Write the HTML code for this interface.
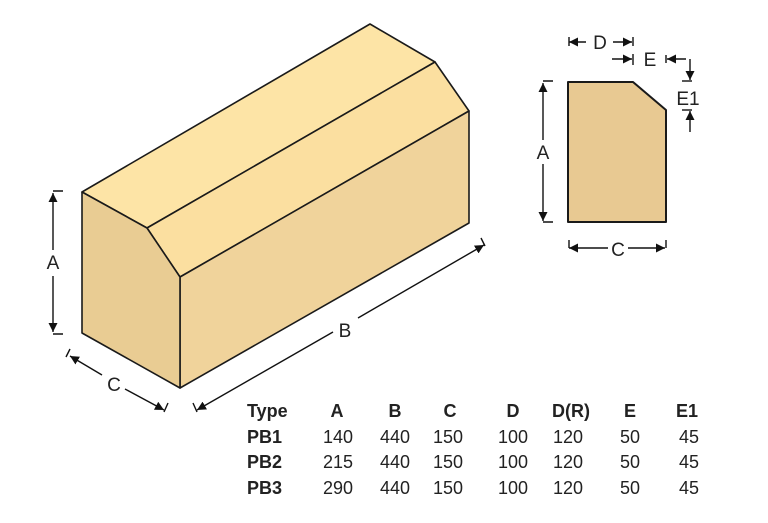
<!DOCTYPE html>
<html><head><meta charset="utf-8"><style>
html,body{margin:0;padding:0;background:#fff;}
svg{display:block;}
text{font-family:"Liberation Sans",sans-serif;fill:#222;}
</style></head><body>
<svg width="768" height="523" viewBox="0 0 768 523" xmlns="http://www.w3.org/2000/svg">
<defs>
<marker id="ar" viewBox="0 0 10 10" refX="10" refY="5" markerWidth="9" markerHeight="9" markerUnits="userSpaceOnUse" orient="auto-start-reverse"><path d="M0,0 L10,5 L0,10 z" fill="#111"/></marker>
</defs>
<g stroke="#1a1a1a" stroke-width="1.6" stroke-linejoin="round">
<polygon points="82,192 370,24 435,62 147,228" fill="#fde4a6"/>
<polygon points="147,228 435,62 469,111 180,277" fill="#fbdfa0"/>
<polygon points="180,277 469,111 469,223 180,388" fill="#f0d39b"/>
<polygon points="82,192 147,228 180,277 180,388 82,333" fill="#e9cc93"/>
<polygon points="568,82 633,82 666,110 666,222 568,222" fill="#e8c992" stroke-width="2"/>
</g>
<g stroke="#111" stroke-width="1.4" fill="none">
<line x1="53" y1="193" x2="53" y2="250" marker-start="url(#ar)"/>
<line x1="53" y1="276" x2="53" y2="332" marker-end="url(#ar)"/>
<path d="M63,191 H53 M63,334 H53"/>
<line x1="70" y1="356" x2="102" y2="375" marker-start="url(#ar)"/>
<line x1="125" y1="389" x2="164" y2="410" marker-end="url(#ar)"/>
<path d="M70,349 L66,357 M168,403 L164,412"/>
<line x1="197" y1="410" x2="333" y2="332" marker-start="url(#ar)"/>
<line x1="358" y1="318" x2="484" y2="245" marker-end="url(#ar)"/>
<path d="M193,403 L197,412 M481,238 L485,246"/>
<line x1="543" y1="83" x2="543" y2="140" marker-start="url(#ar)"/>
<line x1="543" y1="164" x2="543" y2="221" marker-end="url(#ar)"/>
<path d="M553,81 H543 M553,222 H543"/>
<line x1="569" y1="248" x2="608" y2="248" marker-start="url(#ar)"/>
<line x1="628" y1="248" x2="665" y2="248" marker-end="url(#ar)"/>
<path d="M569,240 V248 M666,240 V248"/>
<line x1="569" y1="42" x2="586" y2="42" marker-start="url(#ar)"/>
<line x1="613" y1="42" x2="632" y2="42" marker-end="url(#ar)"/>
<path d="M569,37 V46 M633,37 V46"/>
<line x1="612" y1="59" x2="632" y2="59" marker-end="url(#ar)"/>
<path d="M633,54 V65"/>
<line x1="686" y1="59" x2="667" y2="59" marker-end="url(#ar)"/>
<path d="M666,55 V63"/>
<line x1="690" y1="59" x2="690" y2="80" marker-end="url(#ar)"/>
<path d="M682,81 H692"/>
<line x1="690" y1="132" x2="690" y2="111" marker-end="url(#ar)"/>
<path d="M682,110 H692"/>
</g>
<g font-size="19">
<text x="53" y="269" text-anchor="middle">A</text>
<text x="114" y="391" text-anchor="middle">C</text>
<text x="345" y="337" text-anchor="middle">B</text>
<text x="543" y="159" text-anchor="middle">A</text>
<text x="618" y="256" text-anchor="middle">C</text>
<text x="600" y="49" text-anchor="middle">D</text>
<text x="650" y="66" text-anchor="middle">E</text>
<text x="688" y="105" text-anchor="middle">E1</text>
</g>
<g font-size="18" text-anchor="middle">
<g font-weight="bold">
<text x="247" y="417" text-anchor="start">Type</text>
<text x="337" y="417">A</text><text x="395" y="417">B</text><text x="450" y="417">C</text><text x="513" y="417">D</text><text x="571" y="417">D(R)</text><text x="630" y="417">E</text><text x="687" y="417">E1</text>
<text x="247" y="443" text-anchor="start">PB1</text>
<text x="247" y="468" text-anchor="start">PB2</text>
<text x="247" y="494" text-anchor="start">PB3</text>
</g>
<text x="338" y="443">140</text><text x="395" y="443">440</text><text x="448" y="443">150</text><text x="513" y="443">100</text><text x="568" y="443">120</text><text x="630" y="443">50</text><text x="689" y="443">45</text>
<text x="338" y="468">215</text><text x="395" y="468">440</text><text x="448" y="468">150</text><text x="513" y="468">100</text><text x="568" y="468">120</text><text x="630" y="468">50</text><text x="689" y="468">45</text>
<text x="338" y="494">290</text><text x="395" y="494">440</text><text x="448" y="494">150</text><text x="513" y="494">100</text><text x="568" y="494">120</text><text x="630" y="494">50</text><text x="689" y="494">45</text>
</g>
</svg>
</body></html>
